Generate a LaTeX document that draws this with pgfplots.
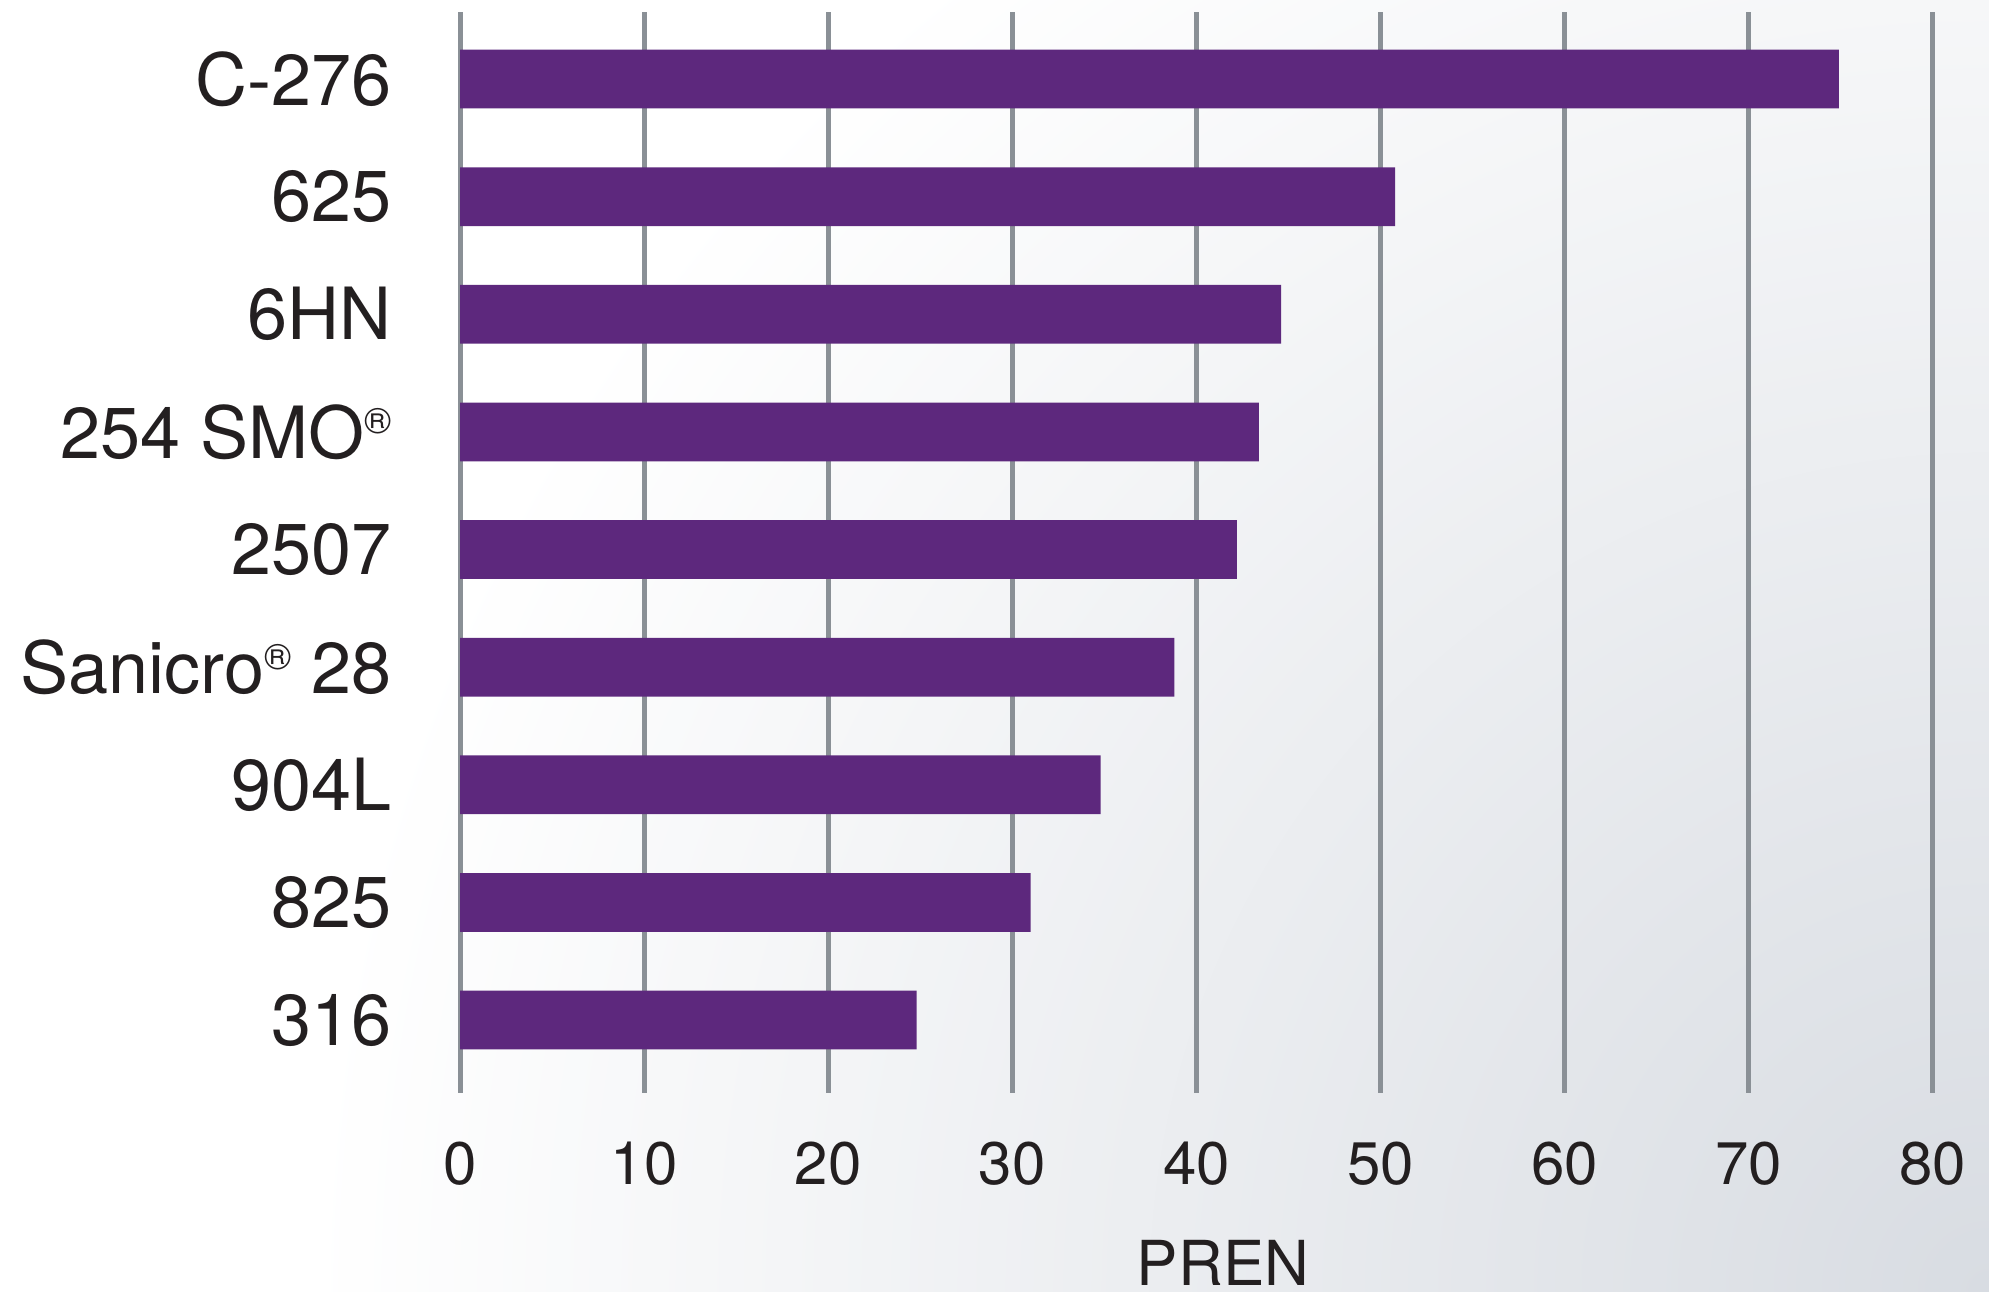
\documentclass[border=0pt]{standalone}
\usepackage{pgfplots}
\pgfplotsset{compat=1.18}
\usepackage{fontspec}
\setmainfont{TeX Gyre Heros}
\definecolor{barpurple}{HTML}{5D287D}
\definecolor{gridgray}{HTML}{8A9096}
\definecolor{txt}{HTML}{231F20}
\definecolor{bgdark}{HTML}{D8DCE2}
\newcommand\reg{\raisebox{6.1pt}{\fontsize{9.2}{9.2}\selectfont ®}}
\begin{document}
\begin{tikzpicture}
\fill[white] (0pt,0pt) rectangle (497.25pt,323pt);
\begin{scope}
\clip (0pt,0pt) rectangle (497.25pt,323pt);
\shade[inner color=bgdark, outer color=white] (497.25pt,0pt) circle (420pt);
\end{scope}
\useasboundingbox (0pt,0pt) rectangle (497.25pt,323pt);
\begin{axis}[
  at={(115pt,49.75pt)}, anchor=south west,
  scale only axis, width=368.2pt, height=270.25pt,
  xbar, bar width=14.7pt, bar shift=0pt,
  xmin=0, xmax=80, ymin=-0.62, ymax=8.57,
  xtick={0,10,...,80},
  ytick={0,...,8},
  yticklabels={316,825,904L,Sanicro\reg\ 28,2507,254 SMO\reg,6HN,625,C-276},
  axis line style={draw=none},
  major tick length=0pt,
  xmajorgrids, ymajorgrids=false,
  grid style={color=gridgray, line width=1.25pt},
  /pgf/number format/assume math mode=true,
  xticklabel style={font=\fontsize{15}{18}\selectfont, text=txt, yshift=-8.6pt},
  yticklabel style={font=\fontsize{18}{22}\selectfont, text=txt, xshift=-13.6pt},
]
\addplot[fill=barpurple, draw=none] coordinates {
(24.8,0) (31.0,1) (34.8,2) (38.8,3) (42.2,4) (43.4,5) (44.6,6) (50.8,7) (74.9,8)
};
\end{axis}
\node[anchor=base, inner sep=0pt, text=txt, font=\fontsize{15.5}{18}\selectfont] at (305.75pt,1.5pt) {PREN};
\end{tikzpicture}
\end{document}
